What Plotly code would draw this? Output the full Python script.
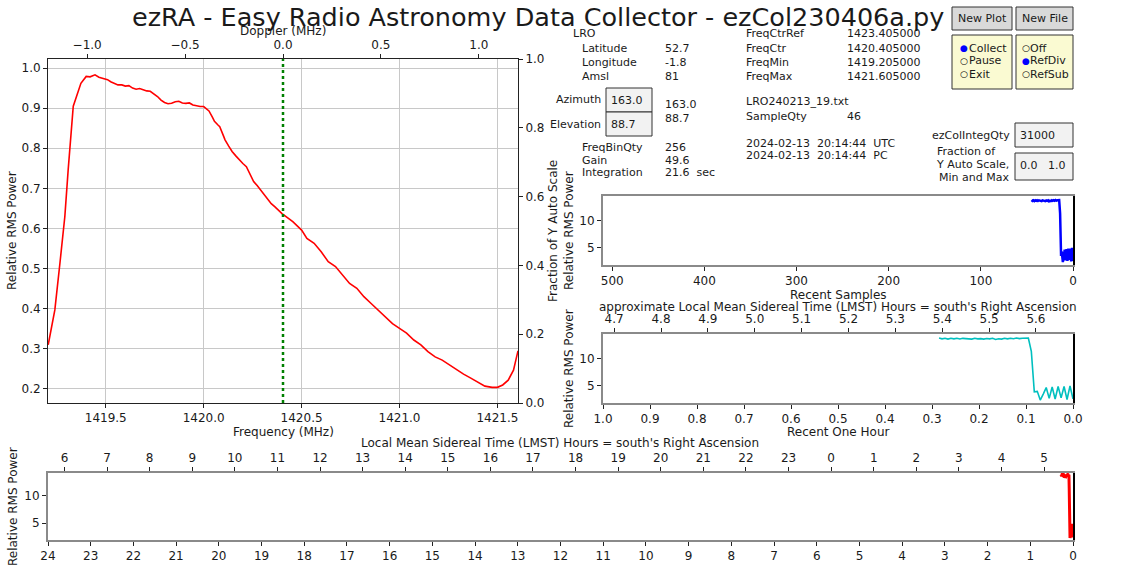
import plotly.graph_objects as go

W, H = 1121, 566

# ---------------- data ----------------
freq_mhz = [1419.206, 1419.240, 1419.266, 1419.291, 1419.308, 1419.334, 1419.373, 1419.400,
            1419.420, 1419.445, 1419.465, 1419.482, 1419.509, 1419.525, 1419.545, 1419.562,
            1419.582, 1419.600, 1419.618, 1419.637, 1419.655, 1419.673, 1419.691, 1419.709,
            1419.727, 1419.745, 1419.764, 1419.782, 1419.800, 1419.818, 1419.836, 1419.855,
            1419.873, 1419.891, 1419.909, 1419.927, 1419.945, 1419.964, 1419.982, 1420.000,
            1420.018, 1420.027, 1420.045, 1420.055, 1420.073, 1420.082, 1420.100, 1420.109,
            1420.127, 1420.145, 1420.164, 1420.182, 1420.200, 1420.218, 1420.236, 1420.255,
            1420.273, 1420.291, 1420.309, 1420.327, 1420.345, 1420.364, 1420.382, 1420.400,
            1420.455, 1420.500, 1420.527, 1420.564, 1420.600, 1420.636, 1420.673, 1420.709,
            1420.745, 1420.782, 1420.818, 1420.855, 1420.891, 1420.927, 1420.964, 1421.000,
            1421.036, 1421.073, 1421.109, 1421.145, 1421.182, 1421.218, 1421.255, 1421.291,
            1421.327, 1421.364, 1421.400, 1421.436, 1421.473, 1421.500, 1421.527, 1421.555,
            1421.582, 1421.605]
power = [0.310, 0.397, 0.514, 0.630, 0.746, 0.905, 0.962, 0.979,
         0.978, 0.983, 0.977, 0.975, 0.971, 0.966, 0.962, 0.958,
         0.958, 0.955, 0.956, 0.950, 0.947, 0.949, 0.946, 0.943,
         0.942, 0.936, 0.929, 0.920, 0.914, 0.911, 0.912, 0.916,
         0.917, 0.913, 0.912, 0.913, 0.908, 0.906, 0.904, 0.904,
         0.898, 0.893, 0.877, 0.867, 0.858, 0.854, 0.832, 0.821,
         0.806, 0.792, 0.781, 0.771, 0.762, 0.754, 0.737, 0.717,
         0.707, 0.696, 0.684, 0.671, 0.662, 0.654, 0.645, 0.637,
         0.617, 0.596, 0.575, 0.563, 0.542, 0.517, 0.505, 0.484,
         0.463, 0.451, 0.430, 0.413, 0.397, 0.380, 0.363, 0.351,
         0.339, 0.322, 0.310, 0.293, 0.280, 0.272, 0.260, 0.247,
         0.237, 0.227, 0.216, 0.207, 0.204, 0.204, 0.210, 0.222,
         0.247, 0.295]

freq_ctr = 1420.405
freq_min = 1419.205
freq_max = 1421.605

freq_ticks = [1419.5, 1420.0, 1420.5, 1421.0, 1421.5]
doppler_ticks = [-1.0, -0.5, 0.0, 0.5, 1.0]
doppler_labels = ["\u22121.0", "\u22120.5", "0.0", "0.5", "1.0"]
power_ticks = [0.2, 0.3, 0.4, 0.5, 0.6, 0.7, 0.8, 0.9, 1.0]
fraction_ticks = [0.0, 0.2, 0.4, 0.6, 0.8, 1.0]

# recent samples, oldest first (index 45 ... 0)
sample_power = [13.75, 13.60, 13.70, 13.55, 13.70, 13.60, 13.72, 13.58, 13.70, 13.62,
                13.68, 13.55, 13.70, 13.60, 13.65, 13.55, 13.68, 13.60, 13.70, 13.50,
                13.62, 13.55, 13.70, 13.60, 13.72, 13.62, 13.75, 13.65, 13.72, 13.68,
                13.75, 11.30, 3.80, 3.90, 2.30, 3.40, 4.60, 2.60, 4.70, 2.50,
                4.80, 2.70, 4.80, 2.40, 4.90, 2.50]
sample_seconds = 22.8
lmst_now = 5.679
sidereal_ratio = 1.0027379

sample_ticks = [500, 400, 300, 200, 100, 0]
hour_ticks = [1.0, 0.9, 0.8, 0.7, 0.6, 0.5, 0.4, 0.3, 0.2, 0.1, 0.0]
lmst_hour_ticks = [4.7, 4.8, 4.9, 5.0, 5.1, 5.2, 5.3, 5.4, 5.5, 5.6]
day_ticks = list(range(24, -1, -1))
lmst_day_ticks = list(range(6, 24)) + list(range(0, 6))
small_y_ticks = [5, 10]

n = len(sample_power)
sample_recent = [n - 1 - i for i in range(n)]
sample_hours = [r * sample_seconds / 3600.0 for r in sample_recent]


def lmst_pos(h):
    return ((lmst_now - h) % 24) / sidereal_ratio


# ---------------- layout helpers ----------------
def px(x):
    return x / W


def py(y):
    return 1 - y / H


FONT = "DejaVu Sans"
TXT = "#1a1a1a"
GRID = "#c8c8c8"
FRAME = "#8a8a8a"

main_dom_x = [px(48), px(518)]
main_dom_y = [py(403), py(59)]
right_dom_x = [px(603), px(1073)]
samp_dom_y = [py(265), py(196)]
hour_dom_y = [py(403), py(334)]
day_dom_x = [px(48), px(1073)]
day_dom_y = [py(540), py(473)]


def ax(**kw):
    base = dict(showline=True, linecolor="#222", linewidth=1, ticks="outside", ticklen=4,
                tickwidth=1, tickcolor="#222", zeroline=False, showgrid=False,
                tickfont=dict(family=FONT, size=12, color=TXT), fixedrange=True)
    base.update(kw)
    return base


fig = go.Figure()

fig.add_trace(go.Scatter(x=freq_mhz, y=power, mode="lines", xaxis="x", yaxis="y",
                         line=dict(color="#ff0000", width=1.6), showlegend=False))
fig.add_trace(go.Scatter(x=[freq_ctr, freq_ctr], y=[0, 1], mode="lines", xaxis="x", yaxis="y2",
                         line=dict(color="#008000", width=2.5, dash="dot"), showlegend=False))
fig.add_trace(go.Scatter(x=sample_recent, y=sample_power, mode="lines", xaxis="x3", yaxis="y3",
                         line=dict(color="#0000ff", width=2.5), showlegend=False))
fig.add_trace(go.Scatter(x=sample_hours, y=sample_power, mode="lines", xaxis="x4", yaxis="y5",
                         line=dict(color="#00bfbf", width=1.6), showlegend=False))
fig.add_trace(go.Scatter(x=sample_hours, y=sample_power, mode="lines", xaxis="x6", yaxis="y7",
                         line=dict(color="#ff0000", width=3), showlegend=False))

# invisible helper traces so the secondary (top / right) axes get drawn
doppler = [f - freq_ctr for f in freq_mhz]
helpers = [("x2", "y", doppler, power),
           ("x3", "y4", sample_recent, sample_power),
           ("x5", "y6", sample_hours, sample_power),
           ("x7", "y8", sample_hours, sample_power)]
for xa, ya, xs, ys in helpers:
    fig.add_trace(go.Scatter(x=xs, y=ys, mode="lines", xaxis=xa, yaxis=ya, opacity=0,
                             line=dict(width=0.1, color="rgba(0,0,0,0)"), hoverinfo="skip",
                             showlegend=False))

small_y_range = [1.75, 14.5]
day_y_range = [1.95, 14.05]

layout = dict(
    width=W, height=H, margin=dict(l=0, r=0, t=0, b=0, pad=0, autoexpand=False),
    paper_bgcolor="white", plot_bgcolor="white", showlegend=False,
    font=dict(family=FONT, size=12, color=TXT),
    # main spectrum
    xaxis=ax(domain=main_dom_x, anchor="y", range=[freq_min, freq_max], tickmode="array",
             tickvals=freq_ticks, ticktext=[f"{v:.1f}" for v in freq_ticks],
             showgrid=True, gridcolor=GRID, gridwidth=1),
    xaxis2=ax(overlaying="x", side="top", anchor="y", range=[freq_min - freq_ctr, freq_max - freq_ctr],
              tickmode="array", tickvals=doppler_ticks, ticktext=doppler_labels),
    yaxis=ax(domain=main_dom_y, anchor="x", range=[0.165, 1.0225], tickmode="array",
             tickvals=power_ticks, ticktext=[f"{v:.1f}" for v in power_ticks],
             showgrid=True, gridcolor=GRID, gridwidth=1),
    yaxis2=ax(overlaying="y", side="right", anchor="x", range=[0, 1], tickmode="array",
              tickvals=fraction_ticks, ticktext=[f"{v:.1f}" for v in fraction_ticks]),
    # recent samples
    xaxis3=ax(domain=right_dom_x, anchor="y3", range=[510, 0], tickmode="array",
              tickvals=sample_ticks, ticktext=[str(v) for v in sample_ticks],
              linecolor=FRAME, linewidth=2, mirror=True),
    yaxis3=ax(domain=samp_dom_y, anchor="x3", range=small_y_range, tickmode="array",
              tickvals=small_y_ticks, ticktext=[str(v) for v in small_y_ticks],
              linecolor=FRAME, linewidth=2),
    yaxis4=ax(overlaying="y3", side="right", anchor="x3", range=small_y_range,
              showticklabels=False, ticks="", linecolor="#000", linewidth=1.5),
    # recent one hour
    xaxis4=ax(domain=right_dom_x, anchor="y5", range=[1.0, 0.0], tickmode="array",
              tickvals=hour_ticks, ticktext=[f"{v:.1f}" for v in hour_ticks],
              linecolor=FRAME, linewidth=2),
    xaxis5=ax(overlaying="x4", side="top", anchor="y5", range=[1.0, 0.0], tickmode="array",
              tickvals=[lmst_pos(h) for h in lmst_hour_ticks],
              ticktext=[f"{h:.1f}" for h in lmst_hour_ticks],
              linecolor=FRAME, linewidth=2),
    yaxis5=ax(domain=hour_dom_y, anchor="x4", range=small_y_range, tickmode="array",
              tickvals=small_y_ticks, ticktext=[str(v) for v in small_y_ticks],
              linecolor=FRAME, linewidth=2),
    yaxis6=ax(overlaying="y5", side="right", anchor="x5", range=small_y_range,
              showticklabels=False, ticks="", linecolor="#000", linewidth=1.5),
    # 24 hours
    xaxis6=ax(domain=day_dom_x, anchor="y7", range=[24, 0], tickmode="array",
              tickvals=day_ticks, ticktext=[str(v) for v in day_ticks],
              linecolor=FRAME, linewidth=2),
    xaxis7=ax(overlaying="x6", side="top", anchor="y7", range=[24, 0], tickmode="array",
              tickvals=[lmst_pos(h) for h in lmst_day_ticks],
              ticktext=[str(h) for h in lmst_day_ticks],
              linecolor=FRAME, linewidth=2),
    yaxis7=ax(domain=day_dom_y, anchor="x6", range=day_y_range, tickmode="array",
              tickvals=small_y_ticks, ticktext=[str(v) for v in small_y_ticks],
              linecolor=FRAME, linewidth=2),
    yaxis8=ax(overlaying="y7", side="right", anchor="x7", range=day_y_range,
              showticklabels=False, ticks="", linecolor="#000", linewidth=1.5),
)
fig.update_layout(**layout)

annotations = []


def text(x, y, s, size=11, xanchor="left", angle=0, color=TXT):
    annotations.append(dict(x=px(x), y=py(y), xref="paper", yref="paper", text=s,
                            showarrow=False, xanchor=xanchor, yanchor="middle", textangle=angle,
                            font=dict(family=FONT, size=size, color=color)))


# titles / axis labels
text(538, 17, "ezRA - Easy Radio Astronomy Data Collector - ezCol230406a.py", size=25.5, xanchor="center")
text(283, 31, "Doppler (MHz)", size=12, xanchor="center")
text(283, 432, "Frequency (MHz)", size=12, xanchor="center")
text(12, 231, "Relative RMS Power", size=12, xanchor="center", angle=-90)
text(553, 231, "Fraction of Y Auto Scale", size=12, xanchor="center", angle=-90)
text(569, 231, "Relative RMS Power", size=12, xanchor="center", angle=-90)
text(838, 295, "Recent Samples", size=12, xanchor="center")
text(838, 307, "approximate Local Mean Sidereal Time (LMST) Hours = south's Right Ascension", size=12, xanchor="center")
text(569, 369, "Relative RMS Power", size=12, xanchor="center", angle=-90)
text(838, 432, "Recent One Hour", size=12, xanchor="center")
text(560, 443, "Local Mean Sidereal Time (LMST) Hours = south's Right Ascension", size=12, xanchor="center")
text(13, 507, "Relative RMS Power", size=12, xanchor="center", angle=-90)

# info panel
station_labels = ["Latitude", "Longitude", "Amsl"]
station_values = ["52.7", "-1.8", "81"]
freq_labels = ["FreqCtrRef", "FreqCtr", "FreqMin", "FreqMax"]
freq_values = ["1423.405000", "1420.405000", "1419.205000", "1421.605000"]
rx_labels = ["FreqBinQty", "Gain", "Integration"]
rx_values = ["256", "49.6", "21.6  sec"]

text(571, 34, "LRO")
for i, (lab, val) in enumerate(zip(station_labels, station_values)):
    text(580, 48 + 14 * i, lab)
    text(663, 48 + 14 * i, val)
for i, (lab, val) in enumerate(zip(freq_labels, freq_values)):
    text(744, 34 + 14 * i, lab)
    text(845, 34 + 14 * i, val)
for i, (lab, val) in enumerate(zip(rx_labels, rx_values)):
    text(580, 147 + 13 * i, lab)
    text(663, 147 + 13 * i, val)

text(663, 105, "163.0")
text(663, 118, "88.7")
text(744, 102, "LRO240213_19.txt")
text(744, 116, "SampleQty")
text(845, 116, "46")
text(744, 143, "2024-02-13  20:14:44  UTC")
text(744, 156, "2024-02-13  20:14:44  PC")

shapes = []


def box(x0, y0, x1, y1, fill, line="#333"):
    shapes.append(dict(type="rect", xref="paper", yref="paper", x0=px(x0), x1=px(x1),
                       y0=py(y1), y1=py(y0), fillcolor=fill, line=dict(color=line, width=1),
                       layer="above"))


box(606, 88, 652, 112, "#f2f2f2")
box(606, 112, 652, 136, "#f2f2f2")
text(603, 99, "Azimuth", xanchor="right")
text(609, 100, "163.0")
text(603, 124, "Elevation", xanchor="right")
text(609, 124, "88.7")

box(1015, 123, 1073, 147, "#f2f2f2")
text(1012, 136, "ezColIntegQty", xanchor="right")
text(1018, 136, "31000")
box(1015, 153, 1073, 180, "#f2f2f2")
text(966, 151, "Fraction of", xanchor="center")
text(972, 164, "Y Auto Scale,", xanchor="center")
text(974, 177, "Min and Max", xanchor="center")
text(1018, 166, "0.0   1.0")

box(952, 7, 1012, 30, "#d9d9d9")
box(1016, 7, 1073, 30, "#d9d9d9")
text(982, 18, "New Plot", xanchor="center")
text(1044.5, 18, "New File", xanchor="center")

box(952, 35, 1012, 89, "#fafad2")
box(1016, 35, 1073, 89, "#fafad2")
radio1 = ["Collect", "Pause", "Exit"]
radio2 = ["Off", "RefDiv", "RefSub"]
active1, active2 = 0, 1
for i, lab in enumerate(radio1):
    text(958, 48 + 13 * i, "\u25cf" if i == active1 else "\u25cb", size=9,
         color="#0000ff" if i == active1 else "#000")
    text(967, 48 + 13 * i, lab)
for i, lab in enumerate(radio2):
    text(1020, 48 + 13 * i, "\u25cf" if i == active2 else "\u25cb", size=9,
         color="#0000ff" if i == active2 else "#000")
    text(1028, 48 + 13 * i, lab)

fig.update_layout(annotations=annotations, shapes=shapes)
fig.write_html("out.html", config={"displayModeBar": False},
               post_script="document.body.style.margin='0px';document.body.style.overflow='hidden';")
